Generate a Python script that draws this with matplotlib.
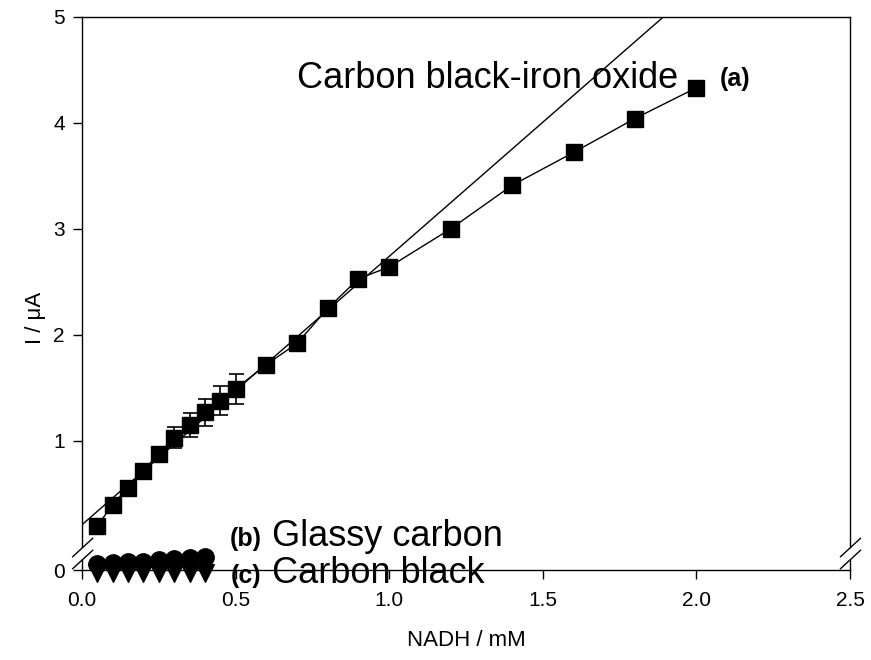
import matplotlib
matplotlib.use("Agg")
import matplotlib.pyplot as plt
from matplotlib.lines import Line2D
from matplotlib.path import Path

plt.rcParams['font.family'] = ['Liberation Sans', 'DejaVu Sans']

# (a) carbon black-iron oxide electrode
nadh_a = [0.05, 0.10, 0.15, 0.20, 0.25, 0.30, 0.35, 0.40, 0.45, 0.50,
          0.60, 0.70, 0.80, 0.90, 1.00, 1.20, 1.40, 1.60, 1.80, 2.00]
current_a = [0.20, 0.40, 0.56, 0.72, 0.88, 1.03, 1.15, 1.27, 1.38, 1.49,
             1.72, 1.92, 2.25, 2.53, 2.64, 3.00, 3.41, 3.72, 4.04, 4.33]
err_a = [0.0, 0.0, 0.0, 0.0, 0.04, 0.10, 0.11, 0.125, 0.14, 0.14,
         0.0, 0.0, 0.0, 0.0, 0.0, 0.0, 0.0, 0.0, 0.0, 0.0]

# linear fit of the low-concentration region
fit_slope = 2.53
fit_intercept = 0.21

# (b) glassy carbon and (c) carbon black electrodes
nadh_bc = [0.05, 0.10, 0.15, 0.20, 0.25, 0.30, 0.35, 0.40]
current_b = [0.06, 0.07, 0.08, 0.08, 0.09, 0.10, 0.11, 0.12]
current_c = [0.0, 0.0, 0.0, 0.0, 0.0, 0.0, 0.0, 0.0]

x_ticks = [0.0, 0.5, 1.0, 1.5, 2.0, 2.5]
y_ticks_upper = [1, 2, 3, 4, 5]
y_ticks_lower = [0]

W, H = 871, 660
fig = plt.figure(figsize=(W / 100, H / 100), dpi=100)


def fx(px):
    return px / W


def fy(py):
    return 1 - py / H


LEFT, RIGHT = 82, 850
UP_TOP, UP_BOT = 16.7, 547
LO_TOP, LO_BOT = 560, 570
LW = 1.0

ax_up = fig.add_axes([fx(LEFT), fy(UP_BOT), (RIGHT - LEFT) / W, (UP_BOT - UP_TOP) / H])
ax_lo = fig.add_axes([fx(LEFT), fy(LO_BOT), (RIGHT - LEFT) / W, (LO_BOT - LO_TOP) / H])
for ax in (ax_up, ax_lo):
    ax.set_facecolor('none')
    ax.set_xlim(0, 2.5)
    for s in ax.spines.values():
        s.set_linewidth(LW)

ax_up.set_ylim(0, 5)
ax_lo.set_ylim(0, (LO_BOT - LO_TOP) / ((UP_BOT - UP_TOP) / 5))

ax_up.spines['bottom'].set_visible(False)
ax_lo.spines['top'].set_visible(False)

ax_up.set_yticks(y_ticks_upper)
ax_up.set_yticklabels([str(v) for v in y_ticks_upper])
ax_up.tick_params(axis='x', bottom=False, labelbottom=False)
ax_up.tick_params(axis='y', direction='out', length=6.3, width=LW, labelsize=15, pad=6)

ax_lo.set_yticks(y_ticks_lower)
ax_lo.set_yticklabels([str(v) for v in y_ticks_lower])
ax_lo.set_xticks(x_ticks)
ax_lo.set_xticklabels([f"{v:.1f}" for v in x_ticks])
ax_lo.tick_params(axis='both', direction='out', length=6.3, width=LW, labelsize=15, pad=6)
ax_lo.tick_params(axis='x', pad=9)

# fitted straight line and measured curve (a)
fit_x = [0.0, 2.5]
fit_y = [fit_intercept + fit_slope * v for v in fit_x]
ax_up.plot(fit_x, fit_y, color='black', lw=1.0, zorder=2)
ax_up.errorbar(nadh_a, current_a, yerr=err_a, fmt='none', ecolor='black',
               elinewidth=1.2, capsize=5.4, capthick=1.2, zorder=3)
ax_up.plot(nadh_a, current_a, color='black', lw=1.0, marker='s', ms=12,
           mfc='black', mec='black', zorder=4, clip_on=False)

# triangle marker centred on its centroid
tri = Path([(-1.0, 2 / 3), (1.0, 2 / 3), (0.0, -4 / 3), (-1.0, 2 / 3)],
           [Path.MOVETO, Path.LINETO, Path.LINETO, Path.CLOSEPOLY])
ax_lo.plot(nadh_bc, current_c, linestyle='none', marker=tri, ms=17,
           mfc='black', mec='black', zorder=4, clip_on=False)
ax_lo.plot(nadh_bc, current_b, linestyle='none', marker='o', ms=12.5,
           mfc='black', mec='black', zorder=5, clip_on=False)

# axis break marks
for xc in (LEFT + 0.7, RIGHT + 0.5):
    for yc in (UP_BOT + 0.5, LO_TOP - 0.5):
        fig.add_artist(Line2D([fx(xc - 10), fx(xc + 10)], [fy(yc + 9.2), fy(yc - 9.2)],
                              color='black', lw=LW, transform=fig.transFigure))

# labels
fig.text(fx(466), fy(640), 'NADH / mM', fontsize=16, ha='center', va='center')
fig.text(fx(35), fy(318), 'I / μA', fontsize=16, rotation=90, ha='center', va='center')

fig.text(fx(297), fy(88), 'Carbon black-iron oxide', fontsize=26, ha='left', va='baseline')
fig.text(fx(720), fy(86), '(a)', fontsize=18, fontweight='bold', ha='left', va='baseline')
fig.text(fx(230), fy(546), '(b)', fontsize=18, fontweight='bold', ha='left', va='baseline')
fig.text(fx(272), fy(546), 'Glassy carbon', fontsize=26, ha='left', va='baseline')
fig.text(fx(231), fy(583), '(c)', fontsize=18, fontweight='bold', ha='left', va='baseline')
fig.text(fx(272), fy(583), 'Carbon black', fontsize=26, ha='left', va='baseline')

fig.savefig('out.png', dpi=100)
